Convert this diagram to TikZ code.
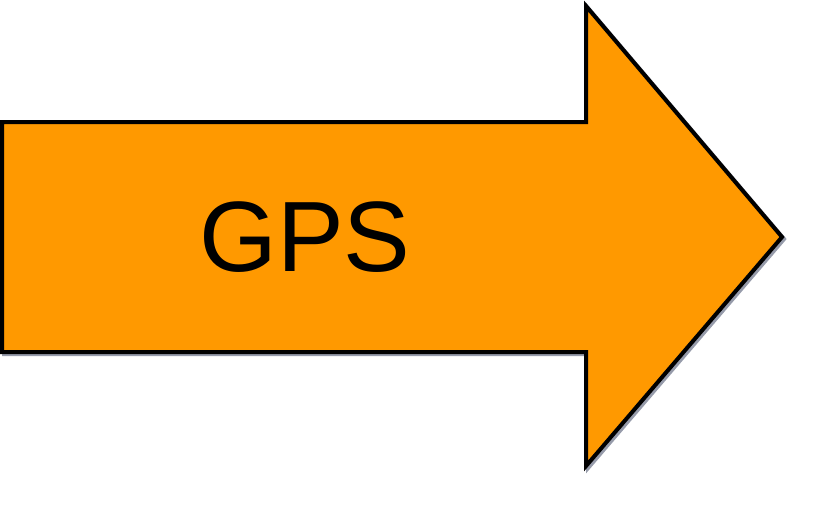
\documentclass[tikz,border=0pt]{standalone}
\usepackage{fontspec}
\setmainfont{Liberation Sans}
\usetikzlibrary{positioning}
\definecolor{arroworange}{RGB}{255, 153, 0}
\definecolor{shadowgray}{RGB}{150, 155, 170}

\begin{document}
\begin{tikzpicture}[
    x=0.5pt, y=-0.5pt,
    bigarrow/.style={draw=black, line width=2pt, line join=miter, fill=arroworange},
    arrowshadow/.style={draw=shadowgray, line width=2pt, line join=miter},
    label/.style={font=\fontsize{50}{60}\selectfont, text=black, inner sep=0pt}
]
\useasboundingbox (0,0) rectangle (817,526);

% shadow
\draw[arrowshadow, xshift=1pt, yshift=-1pt] (2,122) -- (586,122) -- (586,6) -- (782,237) -- (586,466) -- (586,352) -- (2,352) -- cycle;
% arrow
\draw[bigarrow] (2,122) -- (586,122) -- (586,6) -- (782,237) -- (586,466) -- (586,352) -- (2,352) -- cycle;

\node[label] (gps) at (305,237) {GPS};

\end{tikzpicture}
\end{document}
